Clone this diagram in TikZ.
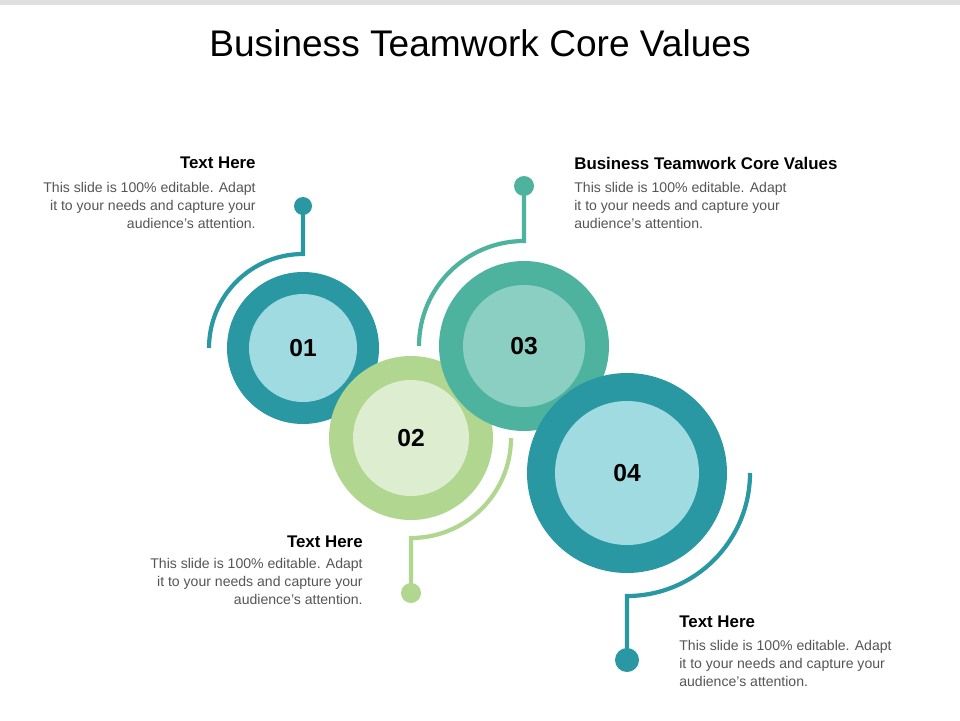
\documentclass[tikz,border=0pt]{standalone}
\usepackage{fontspec}
\setmainfont{Liberation Sans}
\usetikzlibrary{positioning}
\definecolor{tealdark}{HTML}{2A98A3}
\definecolor{teallight}{HTML}{A0DBE2}
\definecolor{greendark}{HTML}{B1D68F}
\definecolor{greenlight}{HTML}{DDEDD0}
\definecolor{mintdark}{HTML}{4DB39F}
\definecolor{mintlight}{HTML}{8ACFC2}
\definecolor{bodygray}{HTML}{555555}
\begin{document}
\begin{tikzpicture}[x=0.02cm, y=-0.02cm,
  ring node/.style={circle, inner sep=0pt, minimum size=#1*0.02cm},
  num node/.style={font=\fontsize{14}{14}\selectfont\bfseries},
  dot node/.style={circle, inner sep=0pt, minimum size=#1*0.02cm},
  lead line/.style={line width=2.4pt},
  head node/.style={font=\fontsize{9.6}{11}\selectfont\bfseries, inner sep=0pt},
  body node/.style={font=\fontsize{8}{10.2}\selectfont, text=bodygray, inner sep=0pt}]
\useasboundingbox (0,0) rectangle (960,720);
\fill[gray!25] (0,0) rectangle (960,5);
\node[font=\fontsize{21.1}{24}\selectfont] (title) at (480,43) {Business Teamwork Core Values};

% circle 01
\node[ring node=152, fill=tealdark] (c1) at (303,348) {};
\node[ring node=108, fill=teallight, num node] (c1in) at (c1) {01};
% circle 02
\node[ring node=164, fill=greendark] (c2) at (411,438) {};
\node[ring node=116, fill=greenlight, num node] (c2in) at (c2) {02};
% circle 03
\node[ring node=170, fill=mintdark] (c3) at (524,346) {};
\node[ring node=122, fill=mintlight, num node] (c3in) at (c3) {03};
% circle 04
\node[ring node=200, fill=tealdark] (c4) at (627,473) {};
\node[ring node=144, fill=teallight, num node] (c4in) at (c4) {04};

% arcs
\coordinate (a1) at (209,348);
\coordinate (a2) at (511,438);
\coordinate (a3) at (419,346);
\coordinate (a4) at (750,473);
\coordinate (e1) at (303,206);
\coordinate (e2) at (411,593);
\coordinate (e3) at (524,186);
\coordinate (e4) at (627,660);
\draw[lead line, tealdark] (a1) arc[start angle=180, end angle=270, radius=94] -- (e1);
\draw[lead line, greendark] (a2) arc[start angle=0, end angle=90, radius=100] -- (e2);
\draw[lead line, mintdark] (a3) arc[start angle=180, end angle=270, radius=105] -- (e3);
\draw[lead line, tealdark] (a4) arc[start angle=0, end angle=90, radius=123] -- (e4);

% dots
\node[dot node=18, fill=tealdark] (d1) at (e1) {};
\node[dot node=20, fill=greendark] (d2) at (e2) {};
\node[dot node=20, fill=mintdark] (d3) at (e3) {};
\node[dot node=24, fill=tealdark] (d4) at (e4) {};

% texts
\node[head node, anchor=east] (h1) at (256,163) {Text Here};
\node[body node, anchor=north east, align=right] (b1) at (256,182) {This slide is 100\% editable. Adapt\\it to your needs and capture your\\audience's attention.};
\node[head node, anchor=west] (h3) at (574,163) {Business Teamwork Core Values};
\node[body node, anchor=north west, align=left] (b3) at (574,182) {This slide is 100\% editable. Adapt\\it to your needs and capture your\\audience's attention.};
\node[head node, anchor=east] (h2) at (363,542) {Text Here};
\node[body node, anchor=north east, align=right] (b2) at (363,558) {This slide is 100\% editable. Adapt\\it to your needs and capture your\\audience's attention.};
\node[head node, anchor=west] (h4) at (679,622) {Text Here};
\node[body node, anchor=north west, align=left] (b4) at (679,640) {This slide is 100\% editable. Adapt\\it to your needs and capture your\\audience's attention.};
\end{tikzpicture}
\end{document}
